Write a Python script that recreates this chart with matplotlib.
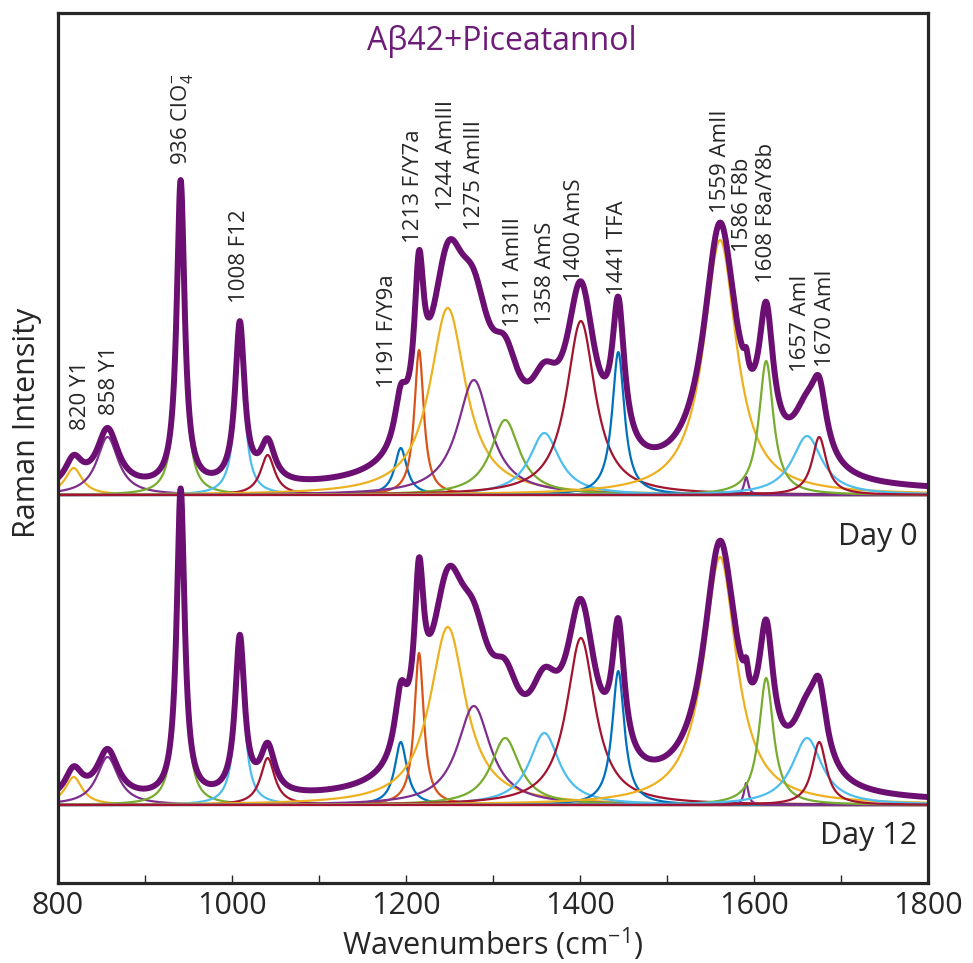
import numpy as np
import matplotlib.pyplot as plt

plt.rcParams['font.family'] = ['Open Sans', 'DejaVu Sans']
plt.rcParams['mathtext.fontset'] = 'custom'
plt.rcParams['mathtext.rm'] = 'Open Sans'
plt.rcParams['mathtext.it'] = 'Open Sans:italic'

# fitted Lorentzian components (centre, half width, height per day)
centers = [818, 857, 941, 1009, 1041, 1194, 1215, 1248, 1278, 1314,
           1359, 1401, 1444, 1561, 1591, 1614, 1661, 1675]
hwhm = [12, 15, 5.5, 6.5, 10, 8.5, 6.5, 25, 23, 20,
        21, 20, 8.5, 23, 3, 10, 21, 10]
height_day0 = [27, 58, 305, 160, 40, 47, 145, 187, 115, 75,
               62, 174, 143, 255, 18, 134, 59, 58]
height_day12 = [28, 48, 308, 157, 47, 63, 152, 178, 99, 67,
                72, 167, 134, 248, 22, 127, 67, 63]
background = {'Day 0': 3, 'Day 12': 2}

peak_labels = ['820 Y1', '858 Y1', '936 ClO$_4^{-}$', '1008 F12',
               '1191 F/Y9a', '1213 F/Y7a', '1244 AmIII', '1275 AmIII',
               '1311 AmIII', '1358 AmS', '1400 AmS', '1441 TFA',
               '1559 AmII', '1586 F8b', '1608 F8a/Y8b', '1657 AmI', '1670 AmI']

# layout
label_x = [826, 859, 943, 1009, 1179, 1209, 1246, 1279, 1323, 1360,
           1394, 1443, 1561, 1587, 1614, 1653, 1682]
label_y = [453, 468, 718, 580, 495, 640, 673, 653, 556, 558,
           601, 588, 670, 631, 600, 511, 516]
offsets = {'Day 0': 388, 'Day 12': 78}

C = {'b': '#0072BD', 'o': '#D95319', 'y': '#EDB120', 'p': '#7E2F8E',
     'g': '#77AC30', 'c': '#4DBEEE', 'r': '#A2142F'}
comp_colors = [C[k] for k in ['y', 'p', 'g', 'c', 'r', 'b', 'o', 'y', 'p', 'g',
                              'c', 'r', 'b', 'y', 'p', 'g', 'c', 'r']]
spec_color = '#6b0f72'
dark = '#262626'


def lorentz(x, x0, w, h):
    return h / (1 + ((x - x0) / w) ** 2)


x = np.linspace(800, 1800, 2001)

fig = plt.figure(figsize=(9.73, 9.63), dpi=100)
ax = fig.add_axes([58 / 973, 80 / 963, 870 / 973, 870 / 963])

for day, heights in [('Day 0', height_day0), ('Day 12', height_day12)]:
    base = offsets[day]
    total = np.zeros_like(x) + background[day]
    for x0, w, h, col in zip(centers, hwhm, heights, comp_colors):
        comp = lorentz(x, x0, w, h)
        total += comp
        ax.plot(x, base + comp, color=col, lw=1.6)
    ax.plot(x, base + total, color=spec_color, lw=4.3, solid_joinstyle='round')

for lx, ly, txt in zip(label_x, label_y, peak_labels):
    ax.text(lx, ly, txt, rotation=90, ha='center', va='bottom',
            fontsize=16, color=dark)

ax.text(1788, 346, 'Day 0', ha='right', va='center', fontsize=22, color=dark)
ax.text(1788, 47, 'Day 12', ha='right', va='center', fontsize=22, color=dark)
ax.text(0.51, 0.967, 'A\u03b242+Piceatannol', transform=ax.transAxes,
        ha='center', va='center', fontsize=23, color='#6d1d78')

ax.set_xlim(800, 1800)
ax.set_ylim(0, 870)
ax.set_xticks(range(800, 1801, 200))
ax.set_xticks(range(900, 1800, 200), minor=True)
ax.set_yticks([])
ax.tick_params(axis='x', which='both', direction='in', length=6, width=1,
               color=dark, labelsize=22, labelcolor=dark, pad=6)
for s in ax.spines.values():
    s.set_linewidth(2.3)
    s.set_color(dark)

ax.set_xlabel('Wavenumbers (cm$^{-1}$)', fontsize=22, color=dark, labelpad=3)
fig.text(0.028, 0.561, 'Raman Intensity', rotation=90, ha='center',
         va='center', fontsize=22, color=dark)

fig.savefig('out.png', dpi=100)
